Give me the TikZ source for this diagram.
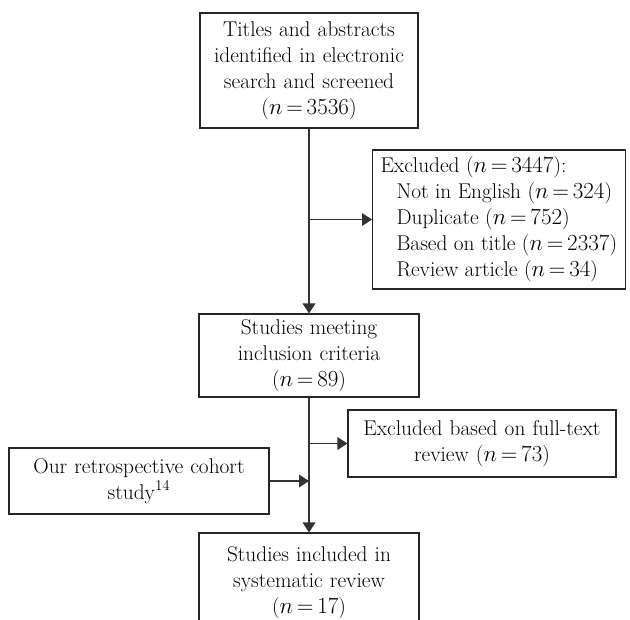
\documentclass[tikz,border=0pt]{standalone}
\usepackage{tikz}
\usetikzlibrary{positioning,arrows.meta}

\newcommand{\nval}[1]{$n\,{=}\,#1$}

\tikzset{
    box/.style={draw=black!85, line width=0.8pt, align=center, inner sep=0pt,
        font=\fontsize{16}{19.5}\selectfont},
    flow/.style={draw=black!80, line width=0.9pt, -{Triangle[length=7.5pt,width=9.5pt]}}
}

\begin{document}
\begin{tikzpicture}[x=0.75pt, y=-0.75pt]
    \clip (0, 0) rectangle (630, 619);

    % Search
    \node [box, text width=163.5pt, minimum height=86.25pt] (search) at (309, 70.5)
        {Titles and abstracts\\identified in electronic\\search and screened\\(\nval{3536})};

    % First exclusion
    \node [box, align=left, anchor=west, inner xsep=6pt, minimum height=104.25pt] (excl) at (372, 219.5)
        {Excluded (\nval{3447}):\\
        \hspace*{0.75em}Not in English (\nval{324})\\
        \hspace*{0.75em}Duplicate (\nval{752})\\
        \hspace*{0.75em}Based on title (\nval{2337})\\
        \hspace*{0.75em}Review article (\nval{34})};

    % Inclusion
    \node [box, text width=165pt, minimum height=62.25pt] (meet) at (309, 355.5)
        {Studies meeting\\inclusion criteria\\(\nval{89})};

    % Full text exclusion
    \node [box, text width=201pt, minimum height=50.25pt] (fulltext) at (482, 443.5)
        {Excluded based on full-text\\review (\nval{73})};

    % Own study
    \node [box, text width=195pt, minimum height=49.5pt] (cohort) at (139, 481)
        {Our retrospective cohort\\study\textsuperscript{14}};

    % Final
    \node [box, text width=165pt, minimum height=75pt] (final) at (309, 583)
        {Studies included in\\systematic review\\(\nval{17})};

    % Connectors
    \draw [flow] (search) -- (meet);
    \coordinate (split1) at (search.south |- excl.west);
    \draw [flow] (split1) -- (excl.west);

    \draw [flow] (meet) -- (final);
    \coordinate (split2) at (meet.south |- fulltext.west);
    \draw [flow] (split2) -- (fulltext.west);
    \coordinate (join) at (meet.south |- cohort.east);
    \draw [flow] (cohort.east) -- (join);
\end{tikzpicture}
\end{document}
